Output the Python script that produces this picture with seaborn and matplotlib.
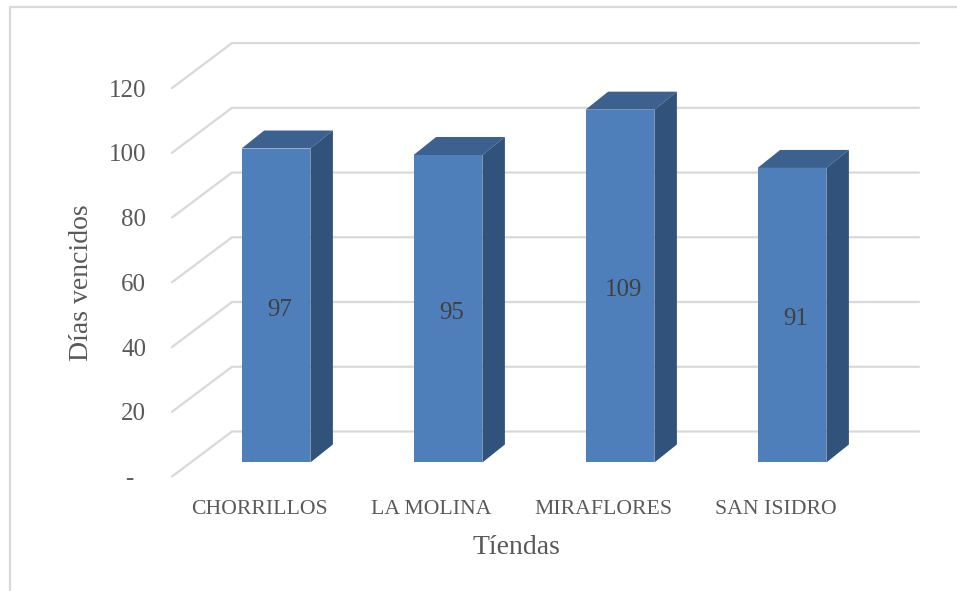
import numpy as np
import pandas as pd
import matplotlib
matplotlib.use('Agg')
import matplotlib.pyplot as plt
from matplotlib.lines import Line2D
from matplotlib.patches import Polygon
import seaborn as sns

# Data
tiendas = ['CHORRILLOS', 'LA MOLINA', 'MIRAFLORES', 'SAN ISIDRO']
dias = [97, 95, 109, 91]
ticks = [0, 20, 40, 60, 80, 100, 120]
tick_labels = ['-  ', '20', '40', '60', '80', '100', '120']

df = pd.DataFrame({'Tienda': tiendas, 'Dias': dias})

sns.set_theme(style='white')
plt.rcParams['font.family'] = ['Liberation Serif', 'DejaVu Serif']

W, H = 957, 591
fig = plt.figure(figsize=(W / 100, H / 100), dpi=100, facecolor='white')

# axes box runs from the front edge of the floor to the back wall
ax = fig.add_axes([172 / W, 1 - 476.5 / H, 747 / W, 433.5 / H])
ax.patch.set_alpha(0)

# fake 3D depth, in data units (1 category = 172 px, 1 day = 3.236 px)
PX_X = 172
PX_Y = 3.236
bar_dx = 22.5 / PX_X
bar_dy = 18 / PX_Y
wall_dy = 31 / PX_Y
front_dy = 14 / PX_Y
x_left = -104 / PX_X
x_wall = -44 / PX_X
x_right = 643 / PX_X

GRID = '#D9D9D9'
TEXT = '#595959'
FRONT = '#4E7FBB'
TOP = '#3C618F'
SIDE = '#31527B'

# back wall and side wall lines
for v in ticks:
    ax.plot([x_left, x_wall, x_right], [v - front_dy, v + wall_dy, v + wall_dy],
            color=GRID, lw=1.6, zorder=1, clip_on=False, solid_joinstyle='miter')

sns.barplot(data=df, x='Tienda', y='Dias', color=FRONT, saturation=1, width=0.4,
            edgecolor='none', linewidth=0, ax=ax, zorder=3)
bars = ax.containers[0]

# top and side faces of each bar
for rect, val in zip(bars, dias):
    x0 = rect.get_x()
    x1 = x0 + rect.get_width()
    ax.add_patch(Polygon([(x0, val), (x1, val), (x1 + bar_dx, val + bar_dy), (x0 + bar_dx, val + bar_dy)],
                         facecolor=TOP, edgecolor='none', zorder=2.5))
    ax.add_patch(Polygon([(x1, 0), (x1, val), (x1 + bar_dx, val + bar_dy), (x1 + bar_dx, bar_dy)],
                         facecolor=SIDE, edgecolor='none', zorder=2.5))

labels = ax.bar_label(bars, label_type='center', fontsize=18, color='#404040')
for lab in labels:
    lab.xyann = (2.5, -3)

ax.set_xlim(x_left, x_right)
ax.set_ylim(-front_dy, 129.6)

ax.set_yticks([v - front_dy for v in ticks], tick_labels)
ax.set_xticks(np.arange(len(tiendas)) - 0.097, tiendas)
ax.tick_params(axis='y', length=0, pad=18.5, labelsize=18, labelcolor=TEXT)
ax.tick_params(axis='x', length=0, pad=17, labelsize=15.7, labelcolor=TEXT)
sns.despine(ax=ax, left=True, bottom=True)

ax.set_xlabel('Tíendas', fontsize=20, color=TEXT)
ax.set_ylabel('Días vencidos', fontsize=20, color=TEXT)
ax.xaxis.set_label_coords((516 - 172) / 747, -(535 - 476.5) / 433.5)
ax.yaxis.set_label_coords((94 - 172) / 747, (476.5 - 283) / 433.5)

# chart frame, cut off by the image on the right and at the bottom
fig.add_artist(Line2D([10 / W, 10 / W, 1], [0, 1 - 7 / H, 1 - 7 / H], color=GRID, lw=1.6))

fig.savefig('out.png', dpi=100)
